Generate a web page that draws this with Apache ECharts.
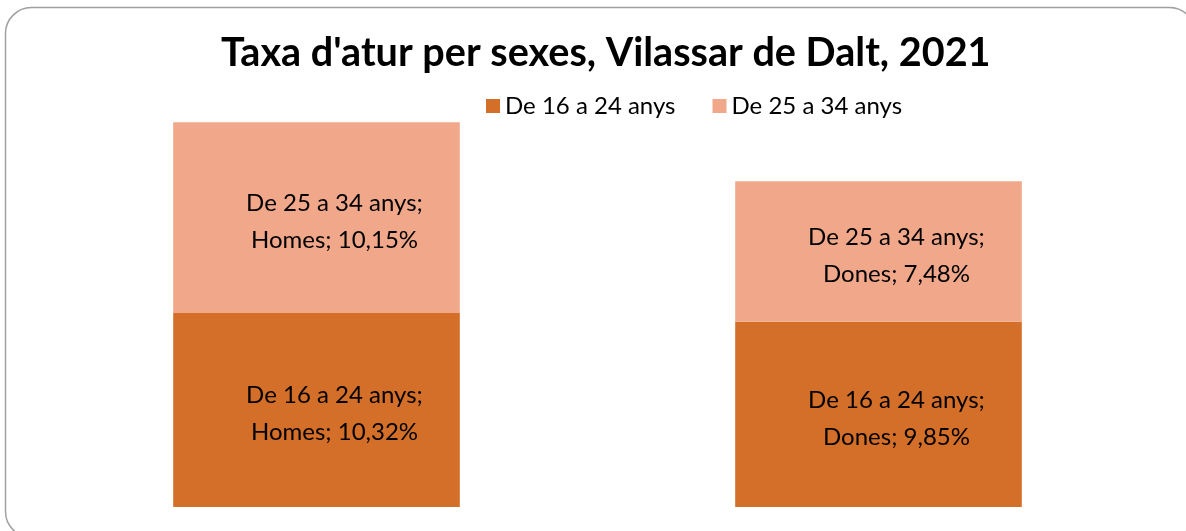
<!DOCTYPE html>
<html><head><meta charset="utf-8">
<script src="https://cdn.jsdelivr.net/npm/echarts@6/dist/echarts.min.js"></script>
<style>html,body{margin:0;padding:0;background:#fff}#c{width:1186px;height:531px}</style>
</head><body><div id="c"></div>
<script>
const categories = ['Homes', 'Dones'];
const seriesNames = ['De 16 a 24 anys', 'De 25 a 34 anys'];
const young = [10.32, 9.85];
const adult = [10.15, 7.48];
const title = "Taxa d'atur per sexes, Vilassar de Dalt, 2021";

const FONT = 'Lato, "Open Sans", sans-serif';
const chart = echarts.init(document.getElementById('c'));
function fmt(v){ return v.toFixed(2).replace('.', ',') + '%'; }
const lbl = {
  show: true, position: 'inside', offset: [18, 4], color: '#000',
  fontFamily: FONT, fontSize: 24, lineHeight: 37,
  formatter: p => p.seriesName + ';\n' + p.name + '; ' + fmt(p.value)
};
chart.setOption({
  animation: false,
  graphic: [{ type: 'rect', shape: { x: 5.5, y: 7.5, width: 1190, height: 530, r: 26 },
    style: { fill: 'none', stroke: '#a0a0a0', lineWidth: 1.5 }, z: -1 }],
  title: { text: title, left: 216, top: 28,
    textStyle: { fontFamily: FONT, fontWeight: 'bold', fontSize: 39.6, color: '#000' } },
  legend: { top: 89, left: 481, itemWidth: 14, itemHeight: 14, itemGap: 37, icon: 'rect',
    textStyle: { fontFamily: FONT, fontSize: 24, color: '#000' }, data: seriesNames },
  grid: { left: 35.5, right: 26.5, top: 37, bottom: 24 },
  xAxis: { type: 'category', data: categories, show: false },
  yAxis: { type: 'value', min: 0, max: 25, show: false },
  series: [
    { name: seriesNames[0], type: 'bar', stack: 's', data: young, barWidth: '51%',
      itemStyle: { color: '#D46F2A' }, label: lbl },
    { name: seriesNames[1], type: 'bar', stack: 's', data: adult, barWidth: '51%',
      itemStyle: { color: '#F1A88A' }, label: lbl }
  ]
});
</script></body></html>
